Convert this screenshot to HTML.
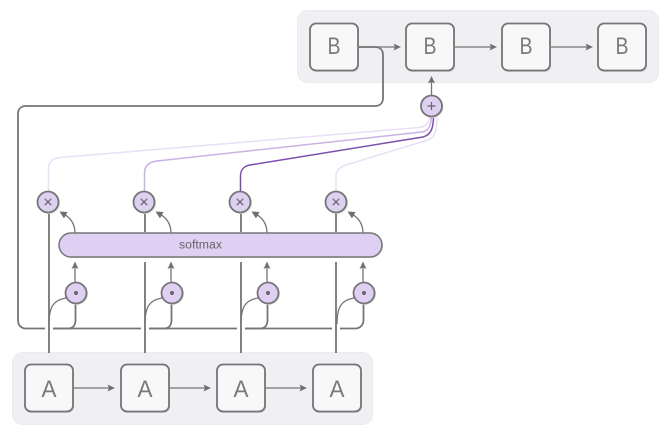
<!DOCTYPE html>
<html>
<head>
<meta charset="utf-8">
<style>
html,body{margin:0;padding:0;background:#fff;}
svg{display:block;}
text{font-family:"Liberation Sans",sans-serif;fill:#666;}
.ln{fill:none;stroke:#757575;stroke-width:1.8;}
.th{fill:none;stroke:#757575;stroke-width:1.3;}
.box{fill:#f8f8f8;stroke:#757575;stroke-width:1.8;}
.sh{fill:#d6d6da;}
.c{fill:#dfcff2;stroke:#757575;stroke-width:1.8;}
.cs{fill:#dcdce0;}
.ar{fill:#6f6f6f;}
.big{font-size:24px;text-anchor:middle;fill:#7a7a7a;}
.sym{stroke:#666;stroke-width:1.2;fill:none;}
</style>
</head>
<body>
<svg width="669" height="435" viewBox="0 0 669 435" xmlns="http://www.w3.org/2000/svg">
<!-- panels -->
<rect x="297.500" y="10.500" width="361" height="72" rx="10" fill="#f0f0f4" stroke="#ebebef"/>
<rect x="12.500" y="352.500" width="360" height="72" rx="10" fill="#f0f0f4" stroke="#ebebef"/>

<!-- purple attention lines -->
<path d="M48.500 191V168C48.500 162 53 158 60 157.500L419 127.500C425 127 429.500 123 430 116" fill="none" stroke="#eadff6" stroke-width="1.500"/>
<path d="M336 191V176C336 170 340 167 346 165L428 140C434 138 437 133 437 116" fill="none" stroke="#eadff6" stroke-width="1.500"/>
<path d="M144.500 191V173C144.500 166 149 162 157 161L422 132C428 131 431 127 431.500 116" fill="none" stroke="#c9b2e4" stroke-width="1.500"/>
<path d="M240.500 191V176C240.500 170 244 166 250 165L423 137C430 135 433.500 130 433.500 116" fill="none" stroke="#7a4fae" stroke-width="1.500"/>

<!-- feedback loop -->
<path class="ln" d="M358 47H375C380 47 383 50 383 55V98C383 103 380 106 375 106H26C21 106 18 109 18 114V320C18 325 21 328.500 26 328.500H45"/>
<path class="ln" d="M53 328.500H68C73 328.500 75.500 325 75.500 320V303"/>
<path class="ln" d="M53 328.500H141M149 328.500H164C169 328.500 171.500 325 171.500 320V303"/>
<path class="ln" d="M149 328.500H237M245 328.500H260C265 328.500 267.500 325 267.500 320V303"/>
<path class="ln" d="M245 328.500H332M340 328.500H355C360 328.500 363.500 325 363.500 320V303"/>

<!-- verticals from A -->
<path class="ln" d="M49 353V212"/>
<path class="ln" d="M145 353V262M145 232V212"/>
<path class="ln" d="M241 353V262M241 232V212"/>
<path class="ln" d="M336 353V262M336 232V212"/>

<!-- branches to dot -->
<path class="th" d="M49 324C49 306 54 300 66 298"/>
<path class="th" d="M145 324C145 306 150 300 162 298"/>
<path class="th" d="M241 324C241 306 246 300 258 298"/>
<path class="th" d="M337 324C337 306 342 300 354 298"/>

<!-- dot arrows to softmax -->
<path class="th" d="M75 283V266"/><path class="th" d="M171 283V266"/><path class="th" d="M267 283V266"/><path class="th" d="M363 283V266"/>
<path class="ar" d="M75 261.500l-3.500 7.500 3.500-1.500 3.500 1.500z"/>
<path class="ar" d="M171 261.500l-3.500 7.500 3.500-1.500 3.500 1.500z"/>
<path class="ar" d="M267 261.500l-3.500 7.500 3.500-1.500 3.500 1.500z"/>
<path class="ar" d="M363 261.500l-3.500 7.500 3.500-1.500 3.500 1.500z"/>

<!-- softmax curved arrows -->
<path class="th" d="M75 233C75 223 70 217 62 213"/>
<path class="th" d="M171 233C171 223 166 217 158 213"/>
<path class="th" d="M267 233C267 223 262 217 254 213"/>
<path class="th" d="M363 233C363 223 358 217 350 213"/>
<path class="ar" d="M59.500 211.500l8 .5-3.500 6.500z"/>
<path class="ar" d="M155.500 211.500l8 .5-3.500 6.500z"/>
<path class="ar" d="M251.500 211.500l8 .5-3.500 6.500z"/>
<path class="ar" d="M347.500 211.500l8 .5-3.500 6.500z"/>

<!-- softmax bar -->
<rect x="60" y="234" width="323" height="24" rx="12" class="sh"/>
<rect x="59" y="233" width="323" height="24" rx="12" fill="#dfcff2" stroke="#777" stroke-width="1.500"/>
<text x="200.500" y="248.500" font-size="11.500" text-anchor="middle" textLength="43" lengthAdjust="spacingAndGlyphs">softmax</text>

<!-- plus to B -->
<path class="th" d="M431.500 95V82"/>
<path class="ar" d="M431.500 76l-3.500 7.500 3.500-1.500 3.500 1.500z"/>

<!-- horizontal arrows -->
<path class="th" d="M358 47H396"/><path class="ar" d="M401 47l-7.500-3.500 1.500 3.500-1.500 3.500z"/>
<path class="th" d="M454 47H492"/><path class="ar" d="M497 47l-7.500-3.500 1.500 3.500-1.500 3.500z"/>
<path class="th" d="M550 47H588"/><path class="ar" d="M593 47l-7.500-3.500 1.500 3.500-1.500 3.500z"/>
<path class="th" d="M73 388H110"/><path class="ar" d="M115 388l-7.500-3.500 1.500 3.500-1.500 3.500z"/>
<path class="th" d="M169 388H206"/><path class="ar" d="M211 388l-7.500-3.500 1.500 3.500-1.500 3.500z"/>
<path class="th" d="M265 388H302"/><path class="ar" d="M307 388l-7.500-3.500 1.500 3.500-1.500 3.500z"/>

<!-- B boxes -->
<g>
<rect class="sh" x="311" y="25" width="48" height="47" rx="6"/><rect class="box" x="310" y="23.500" width="48" height="47" rx="6"/>
<rect class="sh" x="407" y="25" width="48" height="47" rx="6"/><rect class="box" x="406" y="23.500" width="48" height="47" rx="6"/>
<rect class="sh" x="503" y="25" width="48" height="47" rx="6"/><rect class="box" x="502" y="23.500" width="48" height="47" rx="6"/>
<rect class="sh" x="599" y="25" width="48" height="47" rx="6"/><rect class="box" x="598" y="23.500" width="48" height="47" rx="6"/>
</g>
<text class="big" x="334" y="54" textLength="13" lengthAdjust="spacingAndGlyphs">B</text>
<text class="big" x="430" y="54" textLength="13" lengthAdjust="spacingAndGlyphs">B</text>
<text class="big" x="526" y="54" textLength="13" lengthAdjust="spacingAndGlyphs">B</text>
<text class="big" x="622" y="54" textLength="13" lengthAdjust="spacingAndGlyphs">B</text>

<!-- A boxes -->
<g>
<rect class="sh" x="26" y="366" width="48" height="47" rx="6"/><rect class="box" x="25" y="364.500" width="48" height="47" rx="6"/>
<rect class="sh" x="122" y="366" width="48" height="47" rx="6"/><rect class="box" x="121" y="364.500" width="48" height="47" rx="6"/>
<rect class="sh" x="218" y="366" width="48" height="47" rx="6"/><rect class="box" x="217" y="364.500" width="48" height="47" rx="6"/>
<rect class="sh" x="314" y="366" width="48" height="47" rx="6"/><rect class="box" x="313" y="364.500" width="48" height="47" rx="6"/>
</g>
<text class="big" x="49" y="397" textLength="15" lengthAdjust="spacingAndGlyphs">A</text>
<text class="big" x="145" y="397" textLength="15" lengthAdjust="spacingAndGlyphs">A</text>
<text class="big" x="241" y="397" textLength="15" lengthAdjust="spacingAndGlyphs">A</text>
<text class="big" x="337" y="397" textLength="15" lengthAdjust="spacingAndGlyphs">A</text>

<!-- plus node -->
<circle class="cs" cx="432.500" cy="107" r="11"/>
<circle class="c" cx="431.500" cy="106" r="10.500"/>
<path class="sym" d="M427.500 106h8M431.500 102v8"/>

<!-- times nodes -->
<g>
<circle class="cs" cx="49" cy="203" r="11"/><circle class="c" cx="48" cy="202" r="10.500"/><path class="sym" d="M44.800 198.800l6.400 6.400M51.200 198.800l-6.400 6.400"/>
<circle class="cs" cx="145" cy="203" r="11"/><circle class="c" cx="144" cy="202" r="10.500"/><path class="sym" d="M140.800 198.800l6.400 6.400M147.200 198.800l-6.400 6.400"/>
<circle class="cs" cx="241" cy="203" r="11"/><circle class="c" cx="240" cy="202" r="10.500"/><path class="sym" d="M236.800 198.800l6.400 6.400M243.200 198.800l-6.400 6.400"/>
<circle class="cs" cx="337" cy="203" r="11"/><circle class="c" cx="336" cy="202" r="10.500"/><path class="sym" d="M332.800 198.800l6.400 6.400M339.200 198.800l-6.400 6.400"/>
</g>

<!-- dot nodes -->
<g>
<circle class="cs" cx="77" cy="294" r="11"/><circle class="c" cx="76" cy="293" r="10.500"/><circle cx="76" cy="293" r="2" fill="#666"/>
<circle class="cs" cx="173" cy="294" r="11"/><circle class="c" cx="172" cy="293" r="10.500"/><circle cx="172" cy="293" r="2" fill="#666"/>
<circle class="cs" cx="269" cy="294" r="11"/><circle class="c" cx="268" cy="293" r="10.500"/><circle cx="268" cy="293" r="2" fill="#666"/>
<circle class="cs" cx="365" cy="294" r="11"/><circle class="c" cx="364" cy="293" r="10.500"/><circle cx="364" cy="293" r="2" fill="#666"/>
</g>
</svg>
</body>
</html>
